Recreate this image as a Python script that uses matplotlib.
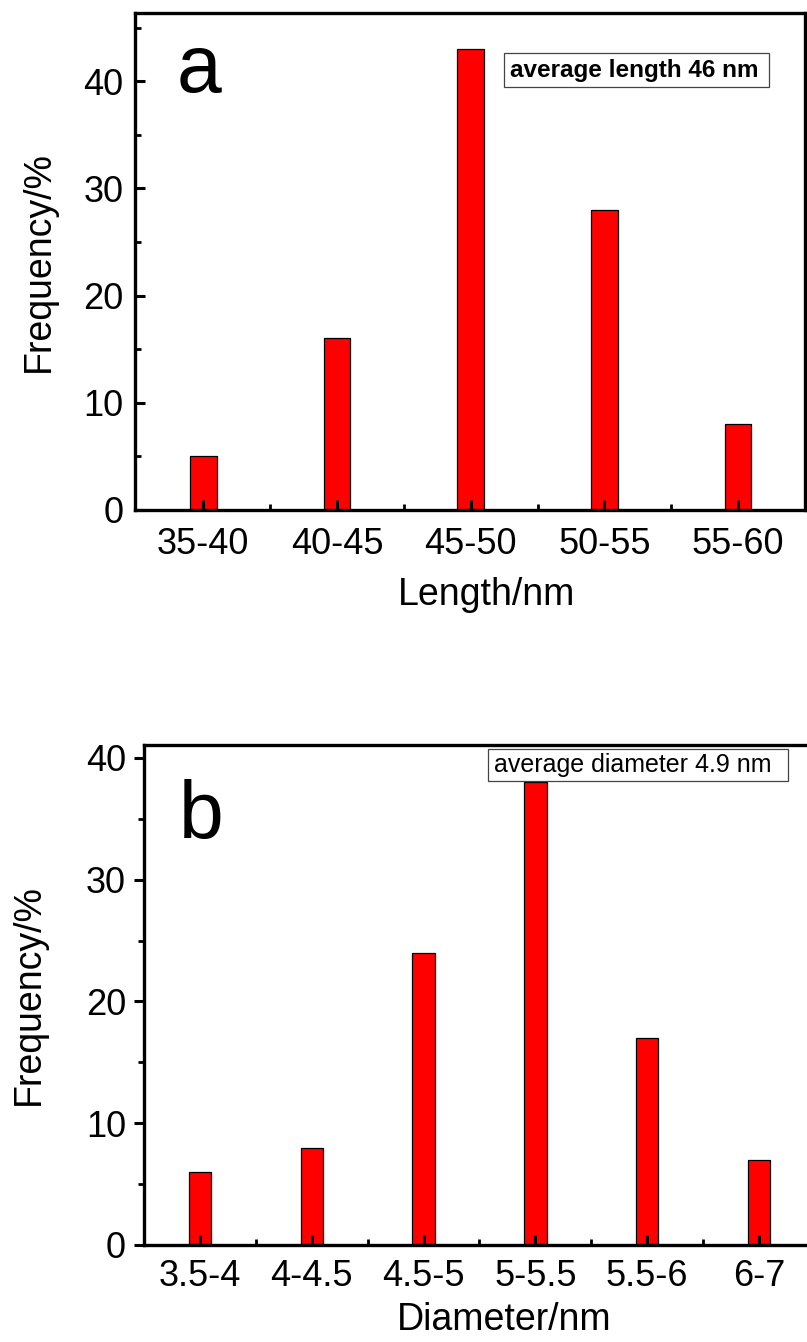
import matplotlib
matplotlib.use('Agg')
import matplotlib.pyplot as plt
from matplotlib.patches import Rectangle

plt.rcParams['font.family'] = ['Liberation Sans', 'DejaVu Sans']

# length histogram
lengthBins = ['35-40', '40-45', '45-50', '50-55', '55-60']
lengthFreq = [5, 16, 43, 28, 8]

# diameter histogram
diameterBins = ['3.5-4', '4-4.5', '4.5-5', '5-5.5', '5.5-6', '6-7']
diameterFreq = [6, 8, 24, 38, 17, 7]

fig = plt.figure(figsize=(8.07, 13.42), dpi=100)
axA = fig.add_axes([0.1673, 0.62, 0.8302, 0.3706])
axB = fig.add_axes([0.1784, 0.0723, 0.8315, 0.3726])


def style_axis(ax, ydir, ypad, xpad):
    for s in ax.spines.values():
        s.set_linewidth(2.4)
    ax.tick_params(axis='x', which='major', direction='in', length=7.2, width=2.2,
                   labelsize=26, pad=xpad, top=False)
    ax.tick_params(axis='x', which='minor', direction='in', length=4.3, width=2.0, top=False)
    ax.tick_params(axis='y', which='major', direction=ydir, length=7.2, width=2.2,
                   labelsize=26, pad=ypad, right=False)
    ax.tick_params(axis='y', which='minor', direction=ydir, length=4.3, width=2.0, right=False)


# panel a
xa = list(range(len(lengthBins)))
axA.bar(xa, lengthFreq, width=0.2, color='#ff0000', edgecolor='black', linewidth=0.9)
axA.set_xlim(-0.51, 4.5)
axA.set_ylim(0, 46.4)
axA.set_xticks(xa)
axA.set_xticklabels(lengthBins)
axA.set_xticks([i + 0.5 for i in xa[:-1]], minor=True)
axA.set_yticks([0, 10, 20, 30, 40])
axA.set_yticks([5, 15, 25, 35, 45], minor=True)
style_axis(axA, 'in', 8.4, 12)
axA.set_xlabel('Length/nm', fontsize=27)
axA.set_ylabel('Frequency/%', fontsize=27)
axA.xaxis.set_label_coords(0.525, -0.135)
axA.yaxis.set_label_coords(-0.116, 0.5)
axA.text(0.062, 0.841, 'a', transform=axA.transAxes, fontsize=58, va='baseline')
axA.add_patch(Rectangle((0.5507, 0.8506), 0.3955, 0.0684, transform=axA.transAxes,
                        facecolor='white', edgecolor='#444444', linewidth=0.9))
axA.text(0.5597, 0.884, 'average length 46 nm', transform=axA.transAxes,
         fontsize=17.5, fontweight='bold', va='center')

# panel b
xb = list(range(len(diameterBins)))
axB.bar(xb, diameterFreq, width=0.2, color='#ff0000', edgecolor='black', linewidth=0.9)
axB.set_xlim(-0.5, 5.5)
axB.set_ylim(0, 41.07)
axB.set_xticks(xb)
axB.set_xticklabels(diameterBins)
axB.set_xticks([i + 0.5 for i in xb[:-1]], minor=True)
axB.set_yticks([0, 10, 20, 30, 40])
axB.set_yticks([5, 15, 25, 35], minor=True)
style_axis(axB, 'out', 5.8, 10)
axB.set_xlabel('Diameter/nm', fontsize=27)
axB.set_ylabel('Frequency/%', fontsize=27)
axB.xaxis.set_label_coords(0.537, -0.114)
axB.yaxis.set_label_coords(-0.145, 0.5)
axB.text(0.052, 0.814, 'b', transform=axB.transAxes, fontsize=58, va='baseline')
axB.add_patch(Rectangle((0.5122, 0.9280), 0.4471, 0.064, transform=axB.transAxes,
                        facecolor='white', edgecolor='#444444', linewidth=0.9, zorder=3))
axB.text(0.521, 0.960, 'average diameter 4.9 nm', transform=axB.transAxes,
         fontsize=18, va='center', zorder=4)

fig.savefig('out.png', dpi=100)
